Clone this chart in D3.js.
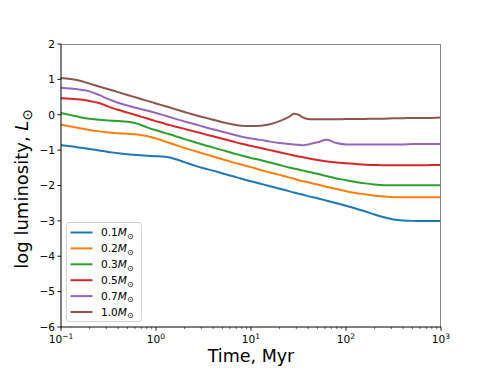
<!DOCTYPE html>
<html><head><meta charset="utf-8">
<script src="https://cdn.jsdelivr.net/npm/d3@7"></script>
<style>body{margin:0;background:#fff;} svg{display:block;font-family:"DejaVu Sans",sans-serif;}</style>
</head><body>
<svg id="c" width="490" height="368"></svg>
<script>
const times = [0.1,0.1259,0.1585,0.1995,0.2512,0.3162,0.3981,0.5012,0.631,0.7943,
  1,1.259,1.585,1.995,2.512,3.162,3.981,5.012,6.31,7.943,
  10,12.59,15.85,19.95,25.12,28.18,31.62,35.48,39.81,50.12,63.1,79.43,
  100,125.9,158.5,199.5,251.2,316.2,398.1,501.2,631,794.3,1000];
const masses = ["0.1","0.2","0.3","0.5","0.7","1.0"];
const colors = ["#1f77b4","#ff7f0e","#2ca02c","#d62728","#9467bd","#8c564b"];
const lum01 = [-0.86,-0.89,-0.93,-0.97,-1.01,-1.05,-1.09,-1.12,-1.14,-1.16,-1.17,-1.19,-1.25,-1.34,-1.43,-1.51,-1.58,-1.66,-1.73,-1.81,-1.88,-1.95,-2.02,-2.09,-2.16,-2.20,-2.23,-2.26,-2.30,-2.36,-2.43,-2.50,-2.57,-2.65,-2.73,-2.82,-2.90,-2.96,-2.99,-3.00,-3.00,-3.00,-3.00];
const lum02 = [-0.28,-0.33,-0.38,-0.43,-0.47,-0.50,-0.52,-0.54,-0.56,-0.60,-0.67,-0.76,-0.85,-0.94,-1.02,-1.10,-1.18,-1.26,-1.34,-1.41,-1.48,-1.56,-1.63,-1.70,-1.77,-1.81,-1.85,-1.88,-1.91,-1.97,-2.04,-2.10,-2.16,-2.21,-2.25,-2.29,-2.31,-2.33,-2.33,-2.33,-2.33,-2.33,-2.33];
const lum03 = [0.05,-0.01,-0.07,-0.11,-0.14,-0.16,-0.18,-0.20,-0.25,-0.35,-0.44,-0.52,-0.60,-0.69,-0.77,-0.85,-0.93,-1.00,-1.08,-1.15,-1.22,-1.28,-1.35,-1.42,-1.49,-1.52,-1.55,-1.58,-1.61,-1.67,-1.74,-1.80,-1.85,-1.90,-1.94,-1.97,-1.99,-1.99,-1.99,-1.99,-1.99,-1.99,-1.99];
const lum05 = [0.465,0.45,0.43,0.39,0.33,0.23,0.14,0.06,-0.02,-0.10,-0.18,-0.26,-0.33,-0.40,-0.47,-0.54,-0.61,-0.68,-0.75,-0.82,-0.88,-0.94,-1.00,-1.06,-1.12,-1.15,-1.18,-1.20,-1.23,-1.28,-1.32,-1.35,-1.37,-1.39,-1.41,-1.42,-1.43,-1.43,-1.43,-1.43,-1.43,-1.42,-1.42];
const lum07 = [0.76,0.74,0.71,0.66,0.56,0.44,0.34,0.26,0.19,0.12,0.05,-0.03,-0.11,-0.19,-0.26,-0.34,-0.41,-0.48,-0.55,-0.62,-0.67,-0.71,-0.76,-0.80,-0.83,-0.84,-0.85,-0.86,-0.84,-0.78,-0.71,-0.80,-0.84,-0.84,-0.84,-0.84,-0.84,-0.84,-0.84,-0.83,-0.83,-0.83,-0.83];
const lum10 = [1.04,1.01,0.96,0.88,0.80,0.72,0.64,0.56,0.48,0.40,0.32,0.24,0.16,0.08,0.00,-0.07,-0.14,-0.21,-0.27,-0.31,-0.32,-0.31,-0.27,-0.18,-0.06,0.03,0.00,-0.08,-0.12,-0.13,-0.13,-0.13,-0.12,-0.12,-0.12,-0.11,-0.11,-0.10,-0.10,-0.09,-0.09,-0.09,-0.08];
const series = [lum01,lum02,lum03,lum05,lum07,lum10];
const xTicks = [0.1,1,10,100,1000];
const xTickExp = ["\u22121","0","1","2","3"];
const yTicks = [-6,-5,-4,-3,-2,-1,0,1,2];

const svg = d3.select("#c");
const L=61,R=441,T=44,B=327;
const x = d3.scaleLog().domain([0.1,1000]).range([L,R]);
const y = d3.scaleLinear().domain([-6,2]).range([B,T]);

// minor ticks
const minor=[];
[0.1,1,10,100].forEach(d=>{for(let k=2;k<=9;k++)minor.push(d*k);});
svg.append("g").selectAll("line").data(minor).join("line")
  .attr("x1",d=>x(d)).attr("x2",d=>x(d)).attr("y1",B).attr("y2",B+2.2)
  .attr("stroke","#000").attr("stroke-width",0.6);

// lines
const line = d3.line().x((d,i)=>x(times[i])).y(d=>y(d)).curve(d3.curveCatmullRom.alpha(0.5));
svg.append("clipPath").attr("id","cp").append("rect").attr("x",L).attr("y",T).attr("width",R-L).attr("height",B-T);
svg.append("g").attr("clip-path","url(#cp)").selectAll("path").data(series).join("path")
  .attr("d",d=>line(d)).attr("fill","none").attr("stroke",(d,i)=>colors[i]).attr("stroke-width",2);

// spines
svg.append("line").attr("x1",L).attr("x2",R).attr("y1",T+0.5).attr("y2",T+0.5).attr("stroke","#888").attr("stroke-width",1);
svg.append("line").attr("x1",R-0.5).attr("x2",R-0.5).attr("y1",T).attr("y2",B).attr("stroke","#888").attr("stroke-width",1);
svg.append("line").attr("x1",L).attr("x2",L).attr("y1",T).attr("y2",B).attr("stroke","#000").attr("stroke-width",1);
svg.append("line").attr("x1",L).attr("x2",R).attr("y1",B).attr("y2",B).attr("stroke","#000").attr("stroke-width",1);

// y ticks
const yg = svg.append("g");
yTicks.forEach(v=>{
  yg.append("line").attr("x1",L-3.7).attr("x2",L).attr("y1",y(v)).attr("y2",y(v)).attr("stroke","#000").attr("stroke-width",0.9);
  yg.append("text").attr("x",L-6).attr("y",y(v)).attr("dy","0.36em").attr("text-anchor","end")
    .attr("font-size",10.6).text(v<0?"\u2212"+Math.abs(v):String(v));
});
// x ticks
const xg = svg.append("g");
xTicks.forEach((v,i)=>{
  xg.append("line").attr("x1",x(v)).attr("x2",x(v)).attr("y1",B).attr("y2",B+3.7).attr("stroke","#000").attr("stroke-width",0.9);
  const t = xg.append("text").attr("x",x(v)).attr("y",B+16).attr("text-anchor","middle").attr("font-size",10.6);
  t.append("tspan").text("10");
  t.append("tspan").attr("dy",-4.5).attr("font-size",7.5).text(xTickExp[i]);
});

// axis labels
svg.append("text").attr("x",251).attr("y",362).attr("text-anchor","middle").attr("font-size",17.5).text("Time, Myr");
const yl = svg.append("text").attr("transform",`translate(28,189) rotate(-90)`).attr("text-anchor","middle").attr("font-size",18);
yl.append("tspan").text("log luminosity, ");
yl.append("tspan").attr("font-style","italic").text("L");
yl.append("tspan").attr("dy",3.5).attr("font-size",13.5).text("\u2299");

// legend
const lg = svg.append("g");
lg.append("rect").attr("x",66.5).attr("y",222.5).attr("width",75).attr("height",99).attr("rx",2.5)
  .attr("fill","#fff").attr("fill-opacity",0.8).attr("stroke","#ccc").attr("stroke-width",0.9);
masses.forEach((m,i)=>{
  const yy = 232.5 + i*15.9;
  lg.append("line").attr("x1",70.5).attr("x2",92.5).attr("y1",yy).attr("y2",yy).attr("stroke",colors[i]).attr("stroke-width",2);
  const t = lg.append("text").attr("x",101).attr("y",yy).attr("dy","0.36em").attr("font-size",10.6);
  t.append("tspan").text(m);
  t.append("tspan").attr("font-style","italic").text("M");
  t.append("tspan").attr("dy",2.5).attr("font-size",8).text("\u2299");
});
</script>
</body></html>
